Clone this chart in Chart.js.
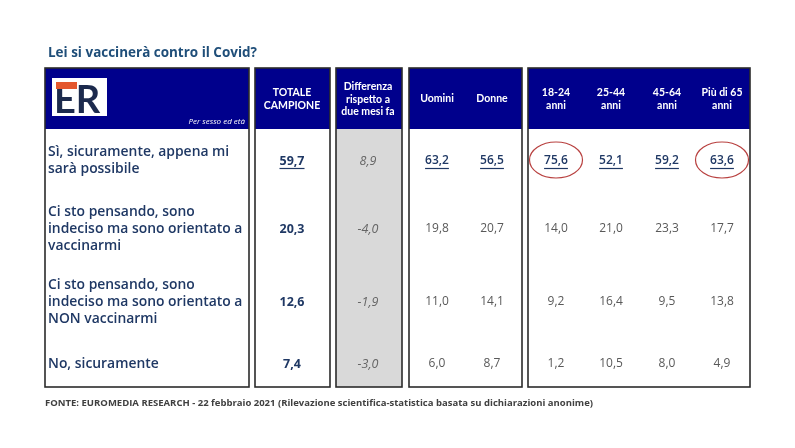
<!DOCTYPE html>
<html>
<head>
<meta charset="utf-8">
<script src="https://cdn.jsdelivr.net/npm/chart.js@4"></script>
<style>
html,body{margin:0;padding:0;background:#fff;}
#wrap{width:795px;height:448px;}
</style>
</head>
<body>
<div id="wrap"><canvas id="c" width="795" height="448"></canvas></div>
<script>
// ---- DATA ----
const title = "Lei si vaccinerà contro il Covid?";
const source = "FONTE: EUROMEDIA RESEARCH - 22 febbraio 2021 (Rilevazione scientifica-statistica basata su dichiarazioni anonime)";
const stubNote = "Per sesso ed età";
const categories = [
  ["Sì, sicuramente, appena mi", "sarà possibile"],
  ["Ci sto pensando, sono", "indeciso ma sono orientato a", "vaccinarmi"],
  ["Ci sto pensando, sono", "indeciso ma sono orientato a", "NON vaccinarmi"],
  ["No, sicuramente"]
];
const columnLabels = [
  ["TOTALE", "CAMPIONE"],
  ["Differenza", "rispetto a", "due mesi fa"],
  ["Uomini"],
  ["Donne"],
  ["18-24", "anni"],
  ["25-44", "anni"],
  ["45-64", "anni"],
  ["Più di 65", "anni"]
];
const totale     = [59.7, 20.3, 12.6, 7.4];
const differenza = [8.9, -4.0, -1.9, -3.0];
const uomini     = [63.2, 19.8, 11.0, 6.0];
const donne      = [56.5, 20.7, 14.1, 8.7];
const anni18_24  = [75.6, 14.0, 9.2, 1.2];
const anni25_44  = [52.1, 21.0, 16.4, 10.5];
const anni45_64  = [59.2, 23.3, 9.5, 8.0];
const anniOltre65 = [63.6, 17.7, 13.8, 4.9];
const seriesValues = [totale, differenza, uomini, donne, anni18_24, anni25_44, anni45_64, anniOltre65];
const circled = [[4, 0], [7, 0]]; // [column, row] highlighted

// ---- LAYOUT (chart units) ----
const colX = [292, 368, 437, 492, 556, 611, 667, 722];
const rowY = [161, 229, 302, 364];
const headerTop = 68, headerBottom = 129, bodyBottom = 387;
const panels = [
  {x0: 45, x1: 249, fill: '#ffffff'},
  {x0: 255, x1: 330, fill: '#ffffff'},
  {x0: 336, x1: 402, fill: '#d9d9d9'},
  {x0: 409, x1: 522, fill: '#ffffff'},
  {x0: 528, x1: 750, fill: '#ffffff'}
];
const NAVY = '#00008c';
const TEXT_NAVY = '#1f3864';
const fmt = v => v.toFixed(1).replace('.', ',');

const datasets = seriesValues.map((vals, j) => ({
  label: columnLabels[j].join(' '),
  data: vals.map((v, i) => ({x: colX[j], y: rowY[i], v: v})),
  pointRadius: 0,
  showLine: false
}));

const tablePlugin = {
  id: 'table',
  beforeDatasetsDraw(chart) {
    const ctx = chart.ctx;
    const X = v => chart.scales.x.getPixelForValue(v);
    const Y = v => chart.scales.y.getPixelForValue(v);
    ctx.save();
    // title
    ctx.fillStyle = '#1f4e79';
    ctx.font = 'bold 14px "Open Sans"';
    ctx.textBaseline = 'middle';
    ctx.textAlign = 'left';
    ctx.fillText(title, X(48), Y(53), X(257) - X(48));
    // panels
    panels.forEach(p => {
      const x0 = X(p.x0), x1 = X(p.x1);
      ctx.fillStyle = p.fill;
      ctx.fillRect(x0, Y(headerBottom), x1 - x0, Y(bodyBottom) - Y(headerBottom));
      ctx.fillStyle = NAVY;
      ctx.fillRect(x0, Y(headerTop), x1 - x0, Y(headerBottom) - Y(headerTop));
      ctx.strokeStyle = '#2b2b2b';
      ctx.lineWidth = 1.6;
      ctx.strokeRect(x0, Y(headerTop), x1 - x0, Y(bodyBottom) - Y(headerTop));
    });
    // logo
    ctx.fillStyle = '#ffffff';
    ctx.fillRect(X(52), Y(78), X(107) - X(52), Y(116) - Y(78));
    ctx.fillStyle = '#1c2a4d';
    ctx.font = 'bold 38px Lato';
    ctx.textAlign = 'left';
    ctx.textBaseline = 'alphabetic';
    ctx.fillText('ER', X(54), Y(113));
    ctx.fillStyle = '#e4572e';
    ctx.fillRect(X(56), Y(82), X(77) - X(56), Y(89) - Y(82));
    // stub note
    ctx.fillStyle = '#ffffff';
    ctx.font = 'italic 8px "Open Sans"';
    ctx.textAlign = 'right';
    ctx.textBaseline = 'middle';
    ctx.fillText(stubNote, X(245), Y(122));
    // column headers
    ctx.font = 'bold 10.5px Lato';
    ctx.textAlign = 'center';
    columnLabels.forEach((lines, j) => {
      const lh = 12.5;
      const cy = lines.length === 3 ? 99.5 : 99;
      lines.forEach((t, k) => {
        ctx.fillText(t, X(colX[j]), Y(cy + (k - (lines.length - 1) / 2) * lh));
      });
    });
    // row labels
    ctx.fillStyle = TEXT_NAVY;
    ctx.font = '600 13.9px "Open Sans"';
    ctx.textAlign = 'left';
    categories.forEach((lines, i) => {
      const lh = 17;
      lines.forEach((t, k) => {
        ctx.fillText(t, X(48), Y(rowY[i] + (k - (lines.length - 1) / 2) * lh));
      });
    });
    // source
    ctx.fillStyle = '#404040';
    ctx.font = 'bold 9.6px "Open Sans"';
    ctx.fillText(source, X(45), Y(403), X(593) - X(45));
    ctx.restore();
  },
  afterDatasetsDraw(chart) {
    const ctx = chart.ctx;
    ctx.save();
    ctx.textAlign = 'center';
    ctx.textBaseline = 'middle';
    chart.data.datasets.forEach((ds, j) => {
      const meta = chart.getDatasetMeta(j);
      meta.data.forEach((el, i) => {
        const v = ds.data[i].v;
        const txt = fmt(v);
        if (j === 1) {
          ctx.fillStyle = '#666666';
          ctx.font = 'italic 12.5px "Open Sans"';
        } else if (i === 0) {
          ctx.fillStyle = TEXT_NAVY;
          ctx.font = (j === 0 ? 'bold 12.5px "Open Sans"' : '600 12px "Open Sans"');
        } else if (j === 0) {
          ctx.fillStyle = TEXT_NAVY;
          ctx.font = 'bold 12.5px "Open Sans"';
        } else {
          ctx.fillStyle = '#595959';
          ctx.font = '12px "Open Sans"';
        }
        ctx.fillText(txt, el.x, el.y);
        if (i === 0 && j !== 1) {
          const w = ctx.measureText(txt).width;
          ctx.strokeStyle = TEXT_NAVY;
          ctx.lineWidth = 1.2;
          ctx.beginPath();
          ctx.moveTo(el.x - w / 2, el.y + 7.5);
          ctx.lineTo(el.x + w / 2, el.y + 7.5);
          ctx.stroke();
        }
      });
    });
    // circles
    ctx.strokeStyle = '#b8403f';
    ctx.lineWidth = 1.2;
    circled.forEach(([j, i]) => {
      const el = chart.getDatasetMeta(j).data[i];
      ctx.beginPath();
      ctx.ellipse(el.x, el.y - 1, 26.5, 18, 0, 0, Math.PI * 2);
      ctx.stroke();
    });
    ctx.restore();
  }
};

new Chart(document.getElementById('c'), {
  type: 'scatter',
  data: {datasets},
  options: {
    responsive: false,
    animation: false,
    layout: {padding: 0},
    plugins: {legend: {display: false}, tooltip: {enabled: false}, title: {display: false}},
    scales: {
      x: {type: 'linear', display: false, min: 0, max: 795},
      y: {type: 'linear', display: false, min: 0, max: 448, reverse: true}
    }
  },
  plugins: [tablePlugin]
});
</script>
</body>
</html>
